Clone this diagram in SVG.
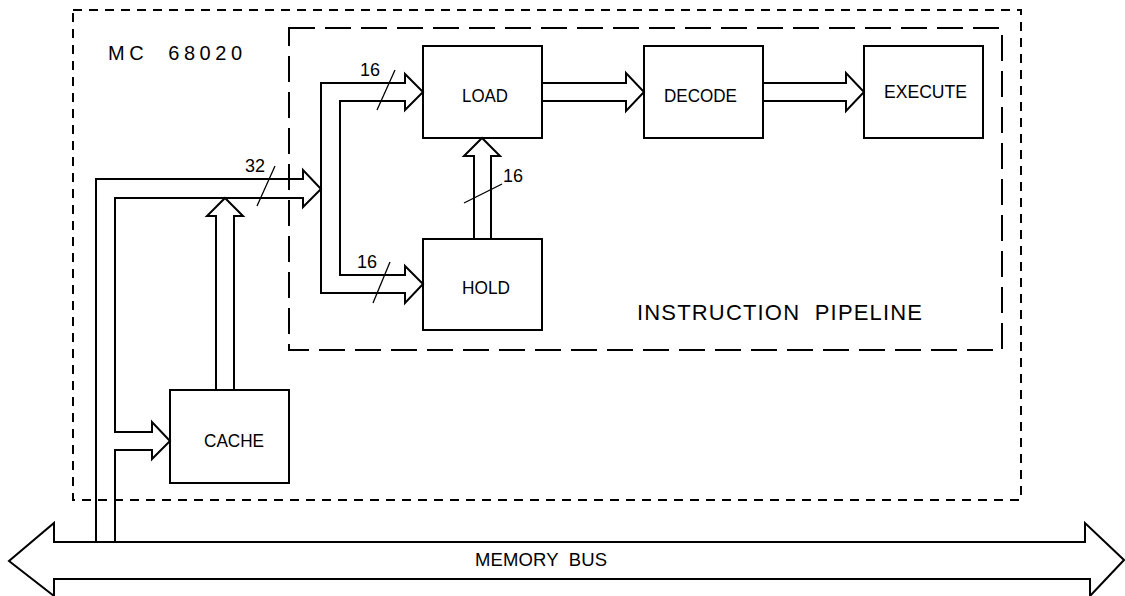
<svg xmlns="http://www.w3.org/2000/svg" width="1125" height="596" viewBox="0 0 1125 596">
<style>
  .bg{fill:#fff}
  .box{fill:none;stroke:#000;stroke-width:2}
  .conn{fill:none;stroke:#000;stroke-width:2;stroke-linejoin:miter;stroke-miterlimit:10}
  .slash{stroke:#000;stroke-width:1.3}
  .outer{fill:none;stroke:#000;stroke-width:2;stroke-dasharray:9 7}
  .inner{fill:none;stroke:#000;stroke-width:2;stroke-dasharray:26 10}
  text{font-family:"Liberation Sans","DejaVu Sans",sans-serif;fill:#000;white-space:pre}
  .lbl{font-size:18.5px;text-anchor:start}
  .num{font-size:18px}
</style>
<rect class="bg" x="0" y="0" width="1125" height="596"/>
<g id="mc68020">
  <rect class="outer" x="73" y="10" width="948" height="490"/>
  <text class="lbl" x="108" y="60" style="font-size:20px" textLength="134" lengthAdjust="spacing">MC  68020</text>
</g>
<g id="pipeline">
  <rect class="inner" x="289" y="28" width="713" height="322"/>
  <text class="lbl" x="637" y="320" style="font-size:22px" textLength="285" lengthAdjust="spacing">INSTRUCTION  PIPELINE</text>
</g>
<g id="load">
  <rect class="box" x="423" y="46" width="119" height="92"/>
  <text class="lbl" x="462" y="102" textLength="46" lengthAdjust="spacingAndGlyphs">LOAD</text>
</g>
<g id="hold">
  <rect class="box" x="423" y="239" width="119" height="91"/>
  <text class="lbl" x="462" y="294" textLength="48" lengthAdjust="spacingAndGlyphs">HOLD</text>
</g>
<g id="decode">
  <rect class="box" x="644" y="46" width="119" height="92"/>
  <text class="lbl" x="664" y="102" textLength="73" lengthAdjust="spacingAndGlyphs">DECODE</text>
</g>
<g id="execute">
  <rect class="box" x="864" y="46" width="119" height="92"/>
  <text class="lbl" x="884" y="98" textLength="83" lengthAdjust="spacingAndGlyphs">EXECUTE</text>
</g>
<g id="cache">
  <rect class="box" x="170" y="390" width="119" height="93"/>
  <text class="lbl" x="204" y="447" textLength="60" lengthAdjust="spacingAndGlyphs">CACHE</text>
</g>
<g id="memory-bus">
  <path class="conn" d="M54,542 H1085 V523 L1124,560 L1090,596 V579 H54 V596 L9,561 L54,523 Z"/>
  <text class="lbl" x="475" y="566" textLength="132" lengthAdjust="spacing">MEMORY  BUS</text>
</g>
<g id="connectors">
  <path class="conn" d="M96,542 V179 H303 V170 L321,189 L303,207 V198 H115 V432 H152 V422 L170,441 L152,459 V450 H115 V542"/>
  <path class="conn" d="M405,83 H321 V293 H405 V303 L423,284 L405,266 V275 H340 V101 H405 V110 L423,92 L405,74 Z"/>
  <path class="conn" d="M216,390 V216 H207 L225,198 L243,216 H234 V390"/>
  <path class="conn" d="M474,239 V156 H464 L482,138 L500,156 H491 V239"/>
  <path class="conn" d="M542,83 H626 V73 L644,92 L626,111 V101 H542"/>
  <path class="conn" d="M763,83 H846 V73 L864,92 L846,111 V101 H763"/>
  <line class="slash" x1="275" y1="166" x2="257" y2="206"/>
  <line class="slash" x1="395" y1="70" x2="377" y2="110"/>
  <line class="slash" x1="390" y1="262" x2="373" y2="303"/>
  <line class="slash" x1="502" y1="184" x2="464" y2="203"/>
  <text class="num" x="245" y="172">32</text>
  <text class="num" x="360" y="76">16</text>
  <text class="num" x="357" y="268">16</text>
  <text class="num" x="503" y="182">16</text>
</g>
</svg>
